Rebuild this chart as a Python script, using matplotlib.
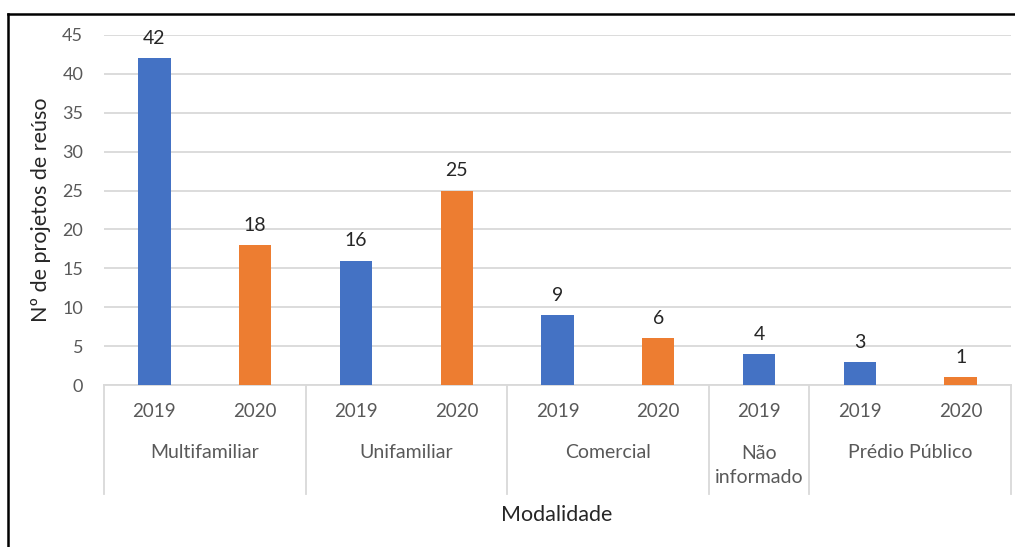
import matplotlib
matplotlib.use("Agg")
import matplotlib.pyplot as plt
import matplotlib.transforms as mtransforms
from matplotlib.lines import Line2D

plt.rcParams['font.family'] = ['Lato', 'DejaVu Sans']

years = ['2019', '2020', '2019', '2020', '2019', '2020', '2019', '2019', '2020']
values = [42, 18, 16, 25, 9, 6, 4, 3, 1]
groups = ['Multifamiliar', 'Unifamiliar', 'Comercial', 'Não\ninformado', 'Prédio Público']
group_sizes = [2, 2, 2, 1, 2]

year_colors = {'2019': '#4472C4', '2020': '#ED7D31'}
grid_col = '#D9D9D9'
tick_col = '#595959'

W, H = 1015, 547
fig = plt.figure(figsize=(W / 100, H / 100), dpi=100)
ax = fig.add_axes([104 / W, (H - 385) / H, 907 / W, 350 / H])

x = list(range(len(values)))
ax.bar(x, values, width=0.32, color=[year_colors[y] for y in years], zorder=3)
for xi, v in zip(x, values):
    ax.annotate(str(v), (xi, v), xytext=(0, 8), textcoords='offset points',
                ha='center', va='bottom', fontsize=14, color='#262626')

ax.set_xlim(-0.5, len(values) - 0.5)
ax.set_ylim(0, 45)
ax.set_yticks(range(0, 46, 5))
ax.yaxis.grid(True, color=grid_col, linewidth=1.3, zorder=0)
ax.tick_params(axis='y', length=0, pad=15, labelsize=13, labelcolor=tick_col)
ax.set_xticks([])
for s in ['top', 'right', 'left']:
    ax.spines[s].set_visible(False)
ax.spines['bottom'].set_color(grid_col)
ax.spines['bottom'].set_linewidth(1.3)

ax.set_ylabel('Nº de projetos de reúso', fontsize=15.5, color='#262626', labelpad=8)

# two-level category axis
trans = mtransforms.blended_transform_factory(ax.transData, ax.transAxes)
for xi, y in zip(x, years):
    ax.text(xi, -0.077, y, transform=trans, ha='center', va='center',
            fontsize=13.5, color=tick_col)

edge = -0.5
bounds = [edge]
for g, n in zip(groups, group_sizes):
    mid = edge + n / 2
    if '\n' in g:
        ax.text(mid, -0.172, g, transform=trans, ha='center', va='top',
                fontsize=14, color=tick_col, linespacing=1.5)
    else:
        ax.text(mid, -0.194, g, transform=trans, ha='center', va='center',
                fontsize=14, color=tick_col)
    edge += n
    bounds.append(edge)
for b in bounds:
    ax.add_line(Line2D([b, b], [0, -0.311], transform=trans, color=grid_col,
                       linewidth=1.3, clip_on=False))

fig.text(557 / W, 1 - 515 / H, 'Modalidade', ha='center', va='center',
         fontsize=15.5, color='#262626')

# outer frame (left and top edges)
fig.add_artist(Line2D([8 / W, 8 / W], [0, 1 - 14 / H], transform=fig.transFigure,
                      color='black', linewidth=1.8))
fig.add_artist(Line2D([8 / W, 1], [1 - 14 / H, 1 - 14 / H], transform=fig.transFigure,
                      color='black', linewidth=1.8))

fig.savefig('out.png', dpi=100)
